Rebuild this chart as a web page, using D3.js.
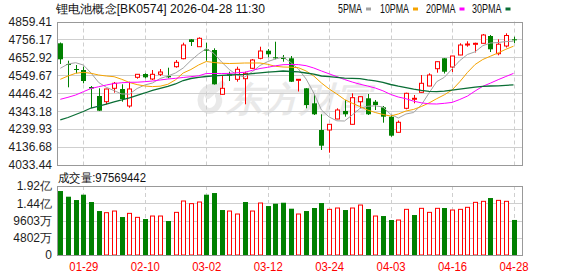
<!DOCTYPE html>
<html>
<head>
<meta charset="utf-8">
<script src="https://cdn.jsdelivr.net/npm/d3@7"></script>
<style>
  body { margin: 0; background: #fff; }
  svg text { font-family: "Liberation Sans", Arial, sans-serif; }
</style>
</head>
<body>
<svg id="chart" width="578" height="276"></svg>
<script>
// K-line data (index BK0574)
const dates = ["01-26","01-27","01-28","01-29","01-30","02-02","02-03","02-04","02-05","02-06",
  "02-09","02-10","02-11","02-12","02-13","02-24","02-25","02-26","02-27","03-02",
  "03-03","03-04","03-05","03-06","03-09","03-10","03-11","03-12","03-13","03-16",
  "03-17","03-18","03-19","03-20","03-23","03-24","03-25","03-26","03-27","03-30",
  "03-31","04-01","04-02","04-03","04-07","04-08","04-09","04-10","04-13","04-14",
  "04-15","04-16","04-17","04-20","04-21","04-22","04-23","04-24","04-27","04-28"];

const open = [4733.9,4614.8,4586.0,4580.2,4482.4,4430.6,4397.8,4474.9,4470.9,4373.0,
  4538.2,4557.2,4528.5,4555.5,4545.7,4599.2,4645.3,4756.9,4714.3,4699.4,
  4695.3,4440.4,4555.5,4526.7,4530.2,4590.0,4647.6,4691.3,4653.3,4651.0,
  4647.6,4520.9,4474.9,4388.5,4234.9,4234.9,4298.2,4344.3,4267.7,4397.8,
  4417.4,4397.8,4365.5,4311.5,4221.6,4359.8,4415.0,4451.9,4488.2,4587.7,
  4647.6,4597.5,4666.6,4728.2,4729.9,4733.9,4775.9,4674.0,4718.4,4756.9];

const high = [4738.5,4633.8,4609.0,4599.2,4488.2,4474.9,4472.0,4511.2,4497.9,4512.9,
  4556.5,4561.2,4580.2,4586.0,4593.5,4637.8,4737.4,4758.7,4768.4,4737.4,
  4705.1,4545.7,4570.4,4599.2,4570.4,4643.5,4714.3,4701.1,4743.1,4666.6,
  4660.8,4527.5,4476.0,4442.1,4325.3,4268.5,4359.8,4407.6,4446.1,4427.5,
  4442.1,4407.6,4373.0,4321.2,4289.5,4449.6,4436.3,4551.5,4561.2,4629.0,
  4648.5,4661.5,4733.9,4745.4,4737.4,4787.5,4781.7,4756.9,4791.5,4771.9];

const low = [4614.8,4480.6,4561.2,4503.7,4361.5,4344.0,4382.8,4449.6,4397.8,4363.2,
  4530.2,4532.5,4522.7,4545.7,4532.5,4593.5,4641.8,4718.4,4713.0,4633.8,
  4496.0,4439.0,4516.9,4512.9,4382.8,4586.0,4641.8,4653.3,4641.8,4628.0,
  4511.0,4456.5,4359.8,4321.2,4119.8,4104.2,4297.0,4311.5,4266.5,4361.5,
  4321.2,4350.0,4276.9,4196.3,4220.5,4354.0,4388.5,4450.0,4487.0,4564.7,
  4560.1,4568.7,4665.5,4714.3,4681.0,4733.0,4683.8,4664.8,4709.7,4735.6];

const close = [4641.8,4610.8,4582.0,4516.9,4473.8,4346.0,4470.9,4503.7,4413.3,4470.9,
  4555.5,4538.2,4555.5,4568.7,4538.2,4624.5,4724.1,4741.4,4762.7,4691.3,
  4497.9,4474.9,4547.4,4584.3,4561.2,4637.8,4689.6,4670.6,4647.6,4643.5,
  4512.9,4526.7,4378.8,4325.3,4144.5,4267.7,4350.0,4325.3,4420.8,4426.6,
  4325.3,4378.8,4311.5,4202.1,4279.2,4446.1,4417.4,4503.7,4551.5,4628.0,
  4570.4,4660.8,4724.1,4729.9,4733.9,4781.7,4699.4,4728.7,4778.8,4754.6];

const volume = [178100000,162300000,153000000,167900000,147500000,122400000,117800000,122400000,105700000,115900000,
  104800000,100200000,108500000,108500000,94600000,118700000,150300000,143000000,147500000,167900000,
  172500000,125200000,122400000,114100000,147500000,122400000,144700000,136300000,142800000,145500000,
  128900000,114100000,122400000,130800000,144700000,127100000,130800000,125200000,130800000,139100000,
  128000000,108500000,108500000,97400000,97400000,127100000,111300000,129900000,118700000,129900000,
  130800000,125200000,127100000,132700000,146600000,149400000,158600000,152100000,149400000,97569442];

const ma5 = [4590.0,4614.8,4622.2,4609.0,4563.0,4508.3,4480.6,4461.6,4442.1,4441.5,
  4473.7,4493.9,4505.4,4531.3,4545.7,4563.0,4591.7,4634.9,4672.3,4704.0,
  4675.2,4626.3,4583.1,4551.4,4539.9,4570.4,4606.1,4628.6,4643.5,4655.0,
  4623.4,4586.0,4528.4,4447.8,4350.0,4309.7,4287.8,4286.7,4321.2,4358.6,
  4371.3,4374.2,4367.2,4325.2,4303.9,4327.0,4335.6,4378.8,4447.8,4512.9,
  4538.2,4586.0,4634.3,4669.4,4685.0,4720.1,4735.6,4738.5,4743.7,4746.0];

const ma10 = [4526.7,4545.7,4561.2,4567.0,4561.2,4551.4,4545.7,4541.7,4526.7,4508.3,
  4496.2,4488.1,4484.7,4487.0,4497.9,4523.8,4563.0,4583.1,4609.0,4629.1,
  4623.4,4619.4,4617.6,4618.8,4620.5,4620.5,4620.5,4613.0,4601.5,4597.5,
  4596.3,4593.5,4574.5,4545.7,4505.4,4470.9,4442.1,4410.4,4389.1,4370.1,
  4350.0,4335.6,4324.1,4315.4,4327.0,4344.2,4353.4,4370.1,4390.3,4415.0,
  4437.5,4465.1,4512.3,4565.8,4611.9,4640.7,4659.7,4678.6,4699.4,4717.2];

const ma20 = [4411.6,4423.1,4436.3,4455.3,4473.7,4484.1,4493.9,4502.5,4507.1,4509.4,
  4510.0,4512.9,4516.9,4522.7,4528.4,4532.4,4537.1,4541.7,4546.8,4560.1,
  4560.1,4560.1,4560.7,4564.1,4567.0,4578.5,4588.9,4595.8,4604.4,4610.7,
  4611.9,4611.3,4605.0,4591.7,4574.5,4558.3,4542.2,4525.5,4511.1,4498.5,
  4488.1,4476.6,4460.5,4439.8,4424.8,4415.0,4400.6,4391.4,4385.7,4384.5,
  4388.5,4393.7,4410.4,4430.0,4459.3,4486.4,4504.8,4524.4,4542.8,4560.7];

const ma30 = [4292.5,4306.8,4324.1,4341.4,4361.5,4373.0,4384.5,4396.1,4407.6,4420.2,
  4434.6,4447.9,4462.3,4474.9,4486.4,4499.7,4519.8,4531.3,4538.2,4542.8,
  4546.9,4549.8,4551.5,4553.2,4555.5,4559.5,4564.1,4567.6,4571.0,4574.5,
  4571.6,4569.3,4563.0,4556.1,4545.7,4542.2,4538.2,4533.0,4531.9,4530.2,
  4523.3,4517.5,4509.4,4496.8,4487.0,4478.9,4469.7,4462.8,4457.7,4455.9,
  4458.2,4464.6,4469.7,4475.5,4481.2,4486.4,4488.1,4489.3,4492.2,4495.0];

const priceTicks = [4033.44,4136.68,4239.93,4343.18,4446.42,4549.67,4652.92,4756.17,4859.41];
const volTicks = [0,48020000,96030000,144060000,192080000];
const volTickLabels = ["0","4802万","9603万","1.44亿","1.92亿"];
const dateTicks = ["01-29","02-10","03-02","03-12","03-24","04-03","04-16","04-28"];

const maNames = ["5PMA","10PMA","20PMA","30PMA"];
const maColors = ["#a3a3a3","#f5a300","#ff00ff","#0a6e35"];

const RED = "#ff0000", GREEN = "#008000";
const left = 57, right = 522;
const priceTop = 21.5, priceBottom = 165;
const volTop = 186, volBottom = 255;

const svg = d3.select("#chart");

const x = d3.scalePoint().domain(dates).range([60.3, 513.5]);
const y = d3.scaleLinear().domain([priceTicks[0], priceTicks[priceTicks.length - 1]]).range([priceBottom, priceTop]);
const yv = d3.scaleLinear().domain([0, volTicks[volTicks.length - 1]]).range([volBottom, volTop]);

const bars = dates.map(function(d, i) {
  return { date: d, o: open[i], h: high[i], l: low[i], c: close[i], v: volume[i],
           prev: i > 0 ? close[i - 1] : open[i] };
});
function cx(d) { return Math.round(x(d.date)) + 0.5; }
function candleUp(d) { return d.c > d.o || (d.c === d.o && d.c >= d.prev); }
function volUp(d) { return d.c >= d.prev; }

// title + legend
svg.append("text")
  .attr("x", 56).attr("y", 13)
  .attr("font-family", "'Noto Sans CJK SC', sans-serif")
  .attr("font-size", 12).attr("fill", "#111")
  .attr("textLength", 209).attr("lengthAdjust", "spacingAndGlyphs")
  .text("锂电池概念[BK0574] 2026-04-28 11:30");

const legendX = [338, 380, 426, 472];
const legendW = [24, 29, 29.5, 29.5];
const legend = svg.append("g").attr("class", "legend");
maNames.forEach(function(name, i) {
  legend.append("text")
    .attr("x", legendX[i]).attr("y", 12.5)
    .attr("font-family", "'Liberation Mono', monospace")
    .attr("font-size", 12).attr("fill", "#111")
    .attr("textLength", legendW[i]).attr("lengthAdjust", "spacingAndGlyphs")
    .text(name);
  legend.append("rect")
    .attr("x", legendX[i] + legendW[i] + 4).attr("y", 7.5)
    .attr("width", 5).attr("height", 3)
    .attr("fill", maColors[i]);
});

// watermark
const wm = svg.append("g").attr("opacity", 0.55);
wm.append("path")
  .attr("d", "M214,86 C200,88 196,104 206,110 C214,114 222,104 218,96 M208,96 L222,84")
  .attr("fill", "none").attr("stroke", "#d8d8d8").attr("stroke-width", 6)
  .attr("stroke-linecap", "round");
wm.append("text")
  .attr("x", 226).attr("y", 111)
  .attr("font-family", "'Noto Sans CJK SC', sans-serif")
  .attr("font-size", 34).attr("font-weight", "bold").attr("font-style", "italic")
  .attr("fill", "#d8d8d8")
  .attr("textLength", 146).attr("lengthAdjust", "spacingAndGlyphs")
  .text("东方财富");

// grids
const grid = svg.append("g").attr("class", "grid");
grid.selectAll("line.hp")
  .data(priceTicks.slice(1, -1))
  .enter().append("line")
  .attr("x1", left).attr("x2", right)
  .attr("y1", function(d) { return Math.round(y(d)) + 0.5; })
  .attr("y2", function(d) { return Math.round(y(d)) + 0.5; })
  .attr("stroke", "#cfcfcf");
grid.selectAll("line.hv")
  .data(volTicks.slice(1, -1))
  .enter().append("line")
  .attr("x1", left).attr("x2", right)
  .attr("y1", function(d) { return Math.round(yv(d)) + 0.5; })
  .attr("y2", function(d) { return Math.round(yv(d)) + 0.5; })
  .attr("stroke", "#cfcfcf");
[[priceTop, priceBottom], [volTop, volBottom]].forEach(function(span) {
  grid.selectAll(null)
    .data(dateTicks)
    .enter().append("line")
    .attr("x1", function(d) { return Math.round(x(d)) + 0.5; })
    .attr("x2", function(d) { return Math.round(x(d)) + 0.5; })
    .attr("y1", span[0]).attr("y2", span[1])
    .attr("stroke", "#cfcfcf").attr("stroke-dasharray", "4,3");
});

// candles
const candles = svg.append("g").attr("class", "candles");
const cg = candles.selectAll("g").data(bars).enter().append("g");
cg.append("line")
  .attr("x1", cx).attr("x2", cx)
  .attr("y1", function(d) { return y(d.h); })
  .attr("y2", function(d) { return y(d.l); })
  .attr("stroke", function(d) { return candleUp(d) ? RED : GREEN; });
cg.append("rect")
  .attr("x", function(d) { return candleUp(d) ? cx(d) - 2 : cx(d) - 2.5; })
  .attr("width", function(d) { return candleUp(d) ? 4 : 5; })
  .attr("y", function(d) { return Math.min(y(d.o), y(d.c)); })
  .attr("height", function(d) { return Math.max(1, Math.abs(y(d.o) - y(d.c))); })
  .attr("fill", function(d) { return candleUp(d) ? "#fff" : GREEN; })
  .attr("stroke", function(d) { return candleUp(d) ? RED : "none"; });

// moving averages
const maSeries = [ma5, ma10, ma20, ma30];
const maLine = d3.line()
  .x(function(d, i) { return x(dates[i]); })
  .y(function(d) { return y(d); });
svg.append("g").attr("class", "ma")
  .selectAll("path").data(maSeries).enter().append("path")
  .attr("d", maLine)
  .attr("fill", "none")
  .attr("stroke", function(d, i) { return maColors[i]; })
  .attr("stroke-width", function(d, i) { return i === 3 ? 1.3 : 1; });

// volume bars
svg.append("g").attr("class", "vol")
  .selectAll("rect").data(bars).enter().append("rect")
  .attr("x", function(d) { return volUp(d) ? cx(d) - 2 : cx(d) - 2.5; })
  .attr("width", function(d) { return volUp(d) ? 4 : 5; })
  .attr("y", function(d) { return yv(d.v); })
  .attr("height", function(d) { return volBottom - yv(d.v); })
  .attr("fill", function(d) { return volUp(d) ? "#fff" : GREEN; })
  .attr("stroke", function(d) { return volUp(d) ? RED : "none"; });

// frames
[[priceTop, priceBottom], [volTop, volBottom]].forEach(function(span) {
  svg.append("rect")
    .attr("x", left + 0.5).attr("y", Math.round(span[0]) + 0.5)
    .attr("width", right - left).attr("height", Math.round(span[1]) - Math.round(span[0]))
    .attr("fill", "none").attr("stroke", "#999");
});

// axes
const yAxis = d3.axisLeft(y).tickValues(priceTicks).tickSize(0).tickPadding(5)
  .tickFormat(function(d) { return d.toFixed(2); });
const ga = svg.append("g").attr("transform", "translate(" + left + ",0)").call(yAxis);
ga.select(".domain").remove();
ga.selectAll("text").attr("font-size", 12).attr("fill", "#1d1d1d")
  .attr("font-family", "'Liberation Sans', Arial, sans-serif");

const vAxis = d3.axisLeft(yv).tickValues(volTicks).tickSize(0).tickPadding(5)
  .tickFormat(function(d, i) { return volTickLabels[i]; });
const gv = svg.append("g").attr("transform", "translate(" + left + ",0)").call(vAxis);
gv.select(".domain").remove();
gv.selectAll("text").attr("font-size", 12).attr("fill", "#1d1d1d")
  .attr("font-family", "'Liberation Sans', 'Noto Sans CJK SC', sans-serif");

const xAxis = d3.axisBottom(x).tickValues(dateTicks).tickSize(0).tickPadding(7);
const gx = svg.append("g").attr("transform", "translate(0," + volBottom + ")").call(xAxis);
gx.select(".domain").remove();
gx.selectAll("text").attr("font-size", 12).attr("fill", RED)
  .attr("font-family", "'Liberation Mono', monospace")
  .attr("textLength", 29).attr("lengthAdjust", "spacingAndGlyphs");

// volume caption
svg.append("text")
  .attr("x", 58).attr("y", 182)
  .attr("font-family", "'Noto Sans CJK SC', sans-serif")
  .attr("font-size", 12).attr("fill", "#111")
  .attr("textLength", 88).attr("lengthAdjust", "spacingAndGlyphs")
  .text("成交量:" + volume[volume.length - 1]);
</script>
</body>
</html>
